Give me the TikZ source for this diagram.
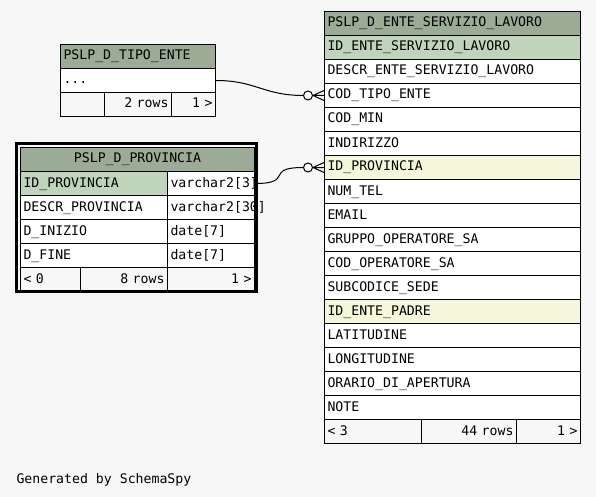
\documentclass[tikz,border=0pt]{standalone}
\usepackage{fontspec}
\setmonofont{DejaVu Sans Mono}
\definecolor{hdrgreen}{HTML}{9BAB96}
\definecolor{pkgreen}{HTML}{BFD4BB}
\definecolor{fkyellow}{HTML}{F4F7DA}
\definecolor{bggray}{HTML}{F7F7F7}
\newcommand\cellfont{\ttfamily\fontsize{13.2}{14}\selectfont}
\begin{document}
\begin{tikzpicture}[x=1pt,y=-1pt,line width=1pt]
		\tikzset{cell/.style = {draw, fill=white, anchor=north west, minimum height=24pt, inner xsep=3pt, inner ysep=0pt, text height=9.5pt, text depth=2.5pt, text width=#1, align=left, font=\cellfont}}
		\tikzset{foot/.style = {cell=#1, fill=bggray}}
		\tikzset{link/.style = {draw, line width=1pt}}
		\fill[bggray] (0,0) rectangle (596,497);
		% PSLP_D_TIPO_ENTE
		\node[cell=149pt, fill=hdrgreen] (tipo-hdr) at (60,44) {PSLP\_D\_TIPO\_ENTE};
		\node[cell=149pt] (tipo-row) at (60,68) {...};
		\node[foot=38pt] (tipo-f1) at (60,92) {};
		\node[foot=61pt, align=right] (tipo-f2) at (104,92) {2 rows};
		\node[foot=38pt, align=right] (tipo-f3) at (171,92) {1 >};
		% PSLP_D_PROVINCIA
		\node[cell=228pt, fill=hdrgreen, align=center] (prov-hdr) at (20,147) {PSLP\_D\_PROVINCIA};
		\foreach \fld/\typ/\col [count=\i] in {ID\_PROVINCIA/varchar2[3]/pkgreen, DESCR\_PROVINCIA/varchar2[30]/white, D\_INIZIO/date[7]/white, D\_FINE/date[7]/white} {
			\node[cell=141pt, fill=\col] (prov-n\i) at (20,{147+24*\i}) {\fld};
			\node[cell=81pt] (prov-t\i) at (167,{147+24*\i}) {\typ};
		}
		\node[foot=54pt] (prov-f1) at (20,267) {< 0};
		\node[foot=81pt, align=right] (prov-f2) at (80,267) {8 rows};
		\node[foot=81pt, align=right] (prov-f3) at (167,267) {1 >};
		\draw[line width=3pt] (16.5,143.5) rectangle (256.5,291.5);
		% PSLP_D_ENTE_SERVIZIO_LAVORO
		\node[cell=250pt, fill=hdrgreen] (esl-hdr) at (324,11) {PSLP\_D\_ENTE\_SERVIZIO\_LAVORO};
		\foreach \fld/\col [count=\i] in {ID\_ENTE\_SERVIZIO\_LAVORO/pkgreen, DESCR\_ENTE\_SERVIZIO\_LAVORO/white, COD\_TIPO\_ENTE/white, COD\_MIN/white, INDIRIZZO/white, ID\_PROVINCIA/fkyellow, NUM\_TEL/white, EMAIL/white, GRUPPO\_OPERATORE\_SA/white, COD\_OPERATORE\_SA/white, SUBCODICE\_SEDE/white, ID\_ENTE\_PADRE/fkyellow, LATITUDINE/white, LONGITUDINE/white, ORARIO\_DI\_APERTURA/white, NOTE/white}
			\node[cell=250pt, fill=\col] (esl-\i) at (324,{11+24*\i}) {\fld};
		\node[foot=91pt] (esl-f1) at (324,419) {< 3};
		\node[foot=89pt, align=right] (esl-f2) at (421,419) {44 rows};
		\node[foot=58pt, align=right] (esl-f3) at (516,419) {1 >};
		% links
		\foreach \src/\dst in {tipo-row/esl-3, prov-t1/esl-6} {
			\path[link] (\src.east) .. controls +(40,0) and +(-40,0) .. ([xshift=-20.5pt]\dst.west);
			\draw ([xshift=-16pt]\dst.west) circle (4.5pt);
			\draw ([xshift=-11pt]\dst.west) -- ([yshift=5pt]\dst.west)
				([xshift=-11pt]\dst.west) -- (\dst.west)
				([xshift=-11pt]\dst.west) -- ([yshift=-5pt]\dst.west);
		}
		\node[anchor=base west, inner sep=0pt, font=\cellfont] (credit) at (16,483) {Generated by SchemaSpy};
	\end{tikzpicture}
\end{document}
